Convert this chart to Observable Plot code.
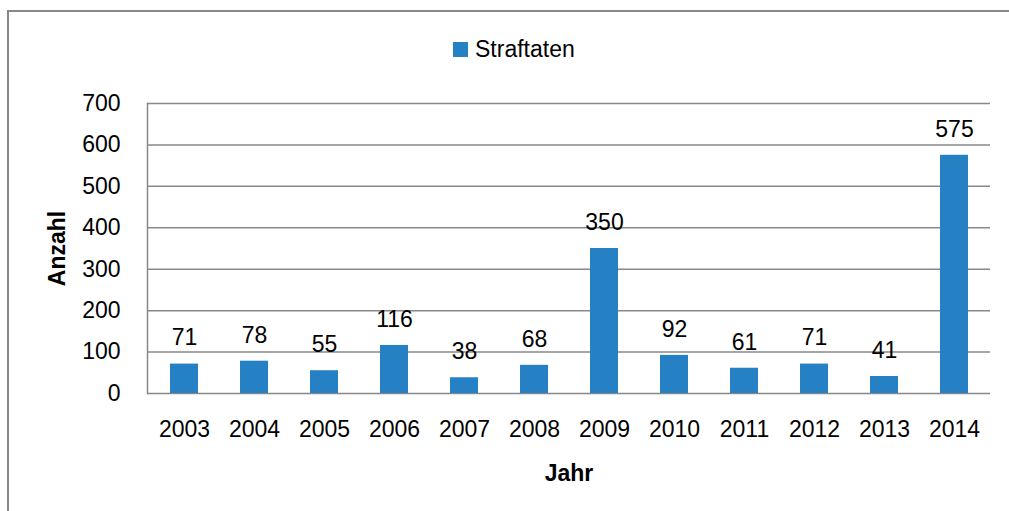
<!DOCTYPE html>
<html>
<head>
<meta charset="utf-8">
<script src="https://cdn.jsdelivr.net/npm/d3@7"></script>
<script src="https://cdn.jsdelivr.net/npm/@observablehq/plot@0.6"></script>
<style>
  html, body { margin: 0; padding: 0; background: #fff; overflow: hidden; }
  #wrap { position: relative; width: 1009px; height: 511px; overflow: hidden; font-family: "Liberation Sans", Arial, sans-serif; }
  #border { position: absolute; left: 7px; top: 10px; width: 1002px; height: 501px; border-left: 2px solid #888; border-top: 2px solid #888; box-sizing: border-box; }
  #legend { position: absolute; left: 453px; top: 36px; display: flex; align-items: center; font-size: 23px; color: #000; }
  #legend .sw { width: 15px; height: 15px; background: #2581C4; margin-right: 7px; }
  #chart { position: absolute; left: 0; top: 70px; }
  g[aria-label="y-axis label"] text, g[aria-label="x-axis label"] text { font-weight: bold; }
</style>
</head>
<body>
<div id="wrap">
  <div id="border"></div>
  <div id="legend"><span class="sw"></span><span>Straftaten</span></div>
  <div id="chart"></div>
</div>
<script>
const years = ["2003","2004","2005","2006","2007","2008","2009","2010","2011","2012","2013","2014"];
const counts = [71, 78, 55, 116, 38, 68, 350, 92, 61, 71, 41, 575];
const yTicks = [0, 100, 200, 300, 400, 500, 600, 700];
const seriesName = "Straftaten";

const data = years.map((y, i) => ({year: y, count: counts[i], series: seriesName}));

const chart = Plot.plot({
  width: 1009,
  height: 441,
  marginLeft: 147,
  marginRight: 19,
  marginTop: 33,
  marginBottom: 118,
  style: {fontFamily: "'Liberation Sans', Arial, sans-serif", fontSize: "23px", color: "#000", background: "transparent", overflow: "visible"},
  x: {domain: years, paddingInner: 0.6, paddingOuter: 0.3},
  y: {domain: [0, 700]},
  marks: [
    Plot.ruleY(yTicks, {stroke: "#888", strokeWidth: 1.5}),
    Plot.frame({anchor: "left", stroke: "#888", strokeWidth: 1.5}),
    Plot.barY(data, {x: "year", y: "count", fill: "#2581C4"}),
    Plot.text(data, {x: "year", y: "count", text: d => String(d.count), dy: -26, fill: "#000"}),
    Plot.axisY({ticks: yTicks, tickSize: 0, tickPadding: 27, label: "Anzahl", labelAnchor: "center", labelOffset: 99, labelArrow: "none", fill: "#000"}),
    Plot.axisX({tickSize: 0, tickPadding: 27, label: "Jahr", labelAnchor: "center", labelOffset: 87, fill: "#000"})
  ]
});
document.getElementById("chart").appendChild(chart);
</script>
</body>
</html>
